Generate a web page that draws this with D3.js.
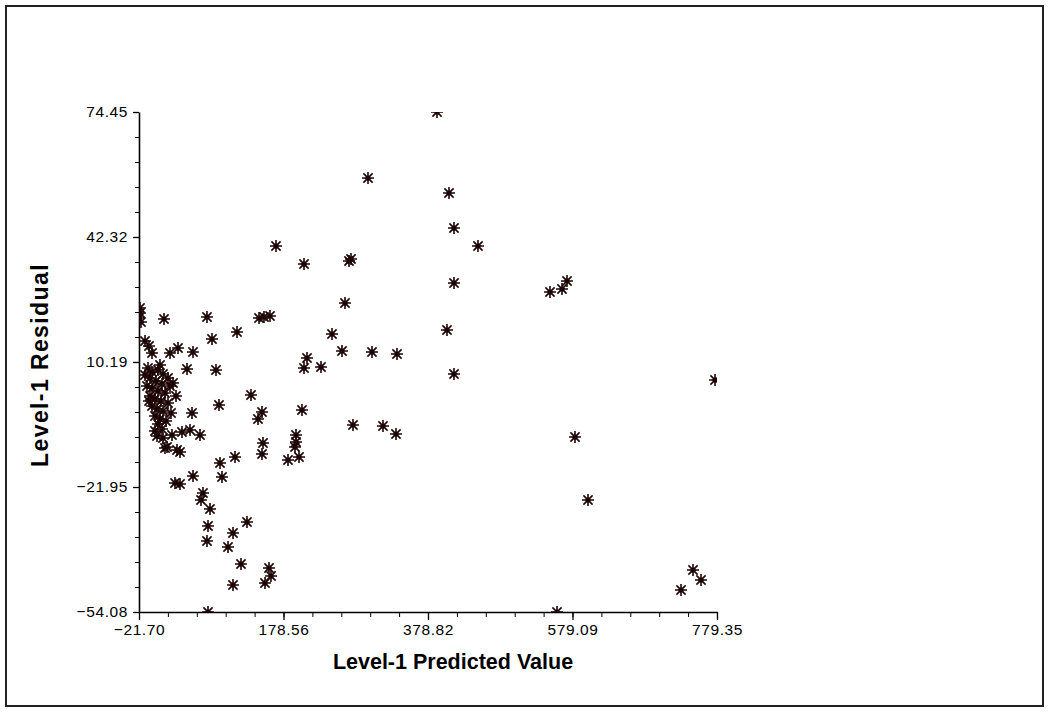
<!DOCTYPE html>
<html>
<head>
<meta charset="utf-8">
<script src="https://cdn.jsdelivr.net/npm/d3@7"></script>
<style>
  body { margin: 0; background: #fff; }
  svg { display: block; }
  .tick-label { font-family: "Liberation Sans", Arial, sans-serif; font-size: 15.5px; letter-spacing: 0.6px; fill: #000; }
  .axis-title { font-family: "Liberation Sans", Arial, sans-serif; font-weight: bold; fill: #000; }
</style>
</head>
<body>
<div id="chart"></div>
<script>
var svgWidth = 1049;
var svgHeight = 712;

var plot = { left: 139, right: 717, top: 112, bottom: 612 };

// tick labels
var xTicks = [-21.70, 178.56, 378.82, 579.09, 779.35];
var yTicks = [-54.08, -21.95, 10.19, 42.32, 74.45];

// Level-1 predicted value (x) and residual (y) for every point
var predicted = [
  391.30, 295.67, 407.93, 414.86, 448.12, 168.17, 206.98, 269.34, 272.11, 414.86,
  547.90, 564.54, 571.47, 263.80, -20.31, -21.70, -18.93, -20.31, 12.95, 72.54,
  144.61, 151.54, 159.85, 405.16, 245.78, 114.12, 79.47, -13.38, -7.84, -3.68,
  21.26, 32.35, 53.14, 259.64, 301.21, 335.86, 211.14, 206.98, 230.54, 44.82,
  85.01, 414.86, 776.60, 133.52, 89.17, 204.20, 148.77, 143.22, 274.88, 316.46,
  334.48, 582.56, 48.98, 62.84, 37.89, 51.75, 150.15, 195.89, 195.89, 194.50,
  35.12, 30.96, 14.33, 90.56, 111.35, 148.77, 184.80, 200.05, 53.14, 93.33,
  28.19, 35.12, 67.00, 64.23, 76.70, 127.98, 73.93, 108.57, 72.54, 101.65,
  119.66, 158.47, 161.24, 152.93, 108.57, 73.93, 557.61, 746.09, 757.18, 729.46,
  600.57,
  -9.23, -3.68, 4.63, 11.56, 18.49, -6.46, 1.86, 10.18, 21.26, -3.68,
  4.63, 14.33, -6.46, 0.47, 8.79, 18.49, -3.68, 3.25, 11.56, 22.65,
  0.47, 7.40, 15.72, 4.63, 10.18, 0.47, 24.03, 11.56, 3.25, -10.61,
  -7.84, 29.58, 25.42, 17.11, -13.38, 7.40
];

var residual = [
  74.45, 57.48, 53.63, 44.63, 40.00, 40.00, 35.38, 36.15, 36.67, 30.49,
  28.18, 28.95, 31.01, 25.35, 22.78, 21.49, 20.47, 24.07, 21.24, 21.75,
  21.49, 21.75, 22.01, 18.41, 17.38, 17.90, 16.10, 15.58, 14.30, 12.50,
  12.50, 13.78, 12.76, 13.01, 12.76, 12.24, 11.21, 8.64, 8.90, 8.39,
  8.13, 7.10, 5.56, 1.70, -0.87, -2.15, -2.67, -4.47, -6.01, -6.27,
  -8.32, -9.10, -7.30, -8.58, -7.81, -2.93, -10.64, -8.58, -10.38, -11.66,
  -12.95, -12.44, -11.92, -15.78, -14.24, -13.47, -15.01, -14.24, -19.12, -19.38,
  -20.92, -21.18, -23.49, -25.29, -27.60, -30.94, -31.97, -33.77, -35.83, -37.37,
  -41.74, -42.77, -44.82, -46.62, -47.14, -54.08, -54.08, -43.28, -45.85, -48.42,
  -25.29,
  8.64, 7.62, 8.13, 7.10, 6.07, 6.07, 5.30, 4.53, 4.02, 3.50,
  2.73, 2.22, 1.45, 0.67, 0.16, -0.35, -1.13, -1.90, -2.41, -2.93,
  -3.70, -4.47, -4.98, -5.75, -7.04, -7.55, -8.58, -9.36, -8.84, 4.02,
  0.16, 1.45, 4.79, -11.66, 6.84, 9.41
];

var points = predicted.map((d, i) => ({ x: d, y: residual[i] }));

var svg = d3.select("#chart")
  .append("svg")
  .attr("width", svgWidth)
  .attr("height", svgHeight);

// outer frame
svg.append("rect")
  .attr("x", 6)
  .attr("y", 6)
  .attr("width", 1037)
  .attr("height", 700)
  .attr("fill", "none")
  .attr("stroke", "#222")
  .attr("stroke-width", 2);

var xScale = d3.scaleLinear()
  .domain([xTicks[0], xTicks[xTicks.length - 1]])
  .range([plot.left, plot.right]);

var yScale = d3.scaleLinear()
  .domain([yTicks[0], yTicks[yTicks.length - 1]])
  .range([plot.bottom, plot.top]);

// minor ticks: five steps between labelled ticks
function minorValues(ticks) {
  var out = [];
  var step = (ticks[1] - ticks[0]) / 5;
  for (var i = 0; i <= (ticks.length - 1) * 5; i++) out.push(ticks[0] + i * step);
  return out;
}

// x axis
var xAxis = svg.append("g")
  .attr("transform", `translate(0, ${plot.bottom})`);

xAxis.append("g")
  .call(d3.axisBottom(xScale).tickValues(minorValues(xTicks)).tickSize(5).tickFormat(""))
  .call(g => g.select(".domain").remove());

xAxis.append("g")
  .call(d3.axisBottom(xScale).tickValues(xTicks).tickSize(8).tickSizeOuter(0).tickPadding(4).tickFormat(d3.format(".2f")))
  .call(g => g.select(".domain").attr("stroke-width", 1.6))
  .call(g => g.selectAll("line").attr("stroke-width", 1.3))
  .call(g => g.selectAll("text").attr("class", "tick-label").attr("font-size", null).attr("font-family", null));

// y axis
var yAxis = svg.append("g")
  .attr("transform", `translate(${plot.left}, 0)`);

yAxis.append("g")
  .call(d3.axisLeft(yScale).tickValues(minorValues(yTicks)).tickSize(4).tickFormat(""))
  .call(g => g.select(".domain").remove());

yAxis.append("g")
  .call(d3.axisLeft(yScale).tickValues(yTicks).tickSize(6).tickSizeOuter(0).tickPadding(5).tickFormat(d3.format(".2f")))
  .call(g => g.select(".domain").attr("stroke-width", 1.6))
  .call(g => g.selectAll("line").attr("stroke-width", 1.3))
  .call(g => g.selectAll("text").attr("class", "tick-label").attr("font-size", null).attr("font-family", null));

svg.selectAll(".tick line").attr("stroke", "#000");

// clip markers to the plotting area
svg.append("clipPath")
  .attr("id", "plotClip")
  .append("rect")
  .attr("x", plot.left)
  .attr("y", plot.top)
  .attr("width", plot.right - plot.left)
  .attr("height", plot.bottom - plot.top);

var r = 6, q = 4.6;
var starPath = `M${-r},0H${r}M0,${-r}V${r}M${-q},${-q}L${q},${q}M${-q},${q}L${q},${-q}`;

var marks = svg.append("g")
  .attr("clip-path", "url(#plotClip)");

var markColor = "#1e0505";

var stars = marks.selectAll("g.star")
  .data(points)
  .enter()
  .append("g")
  .attr("class", "star")
  .attr("transform", d => `translate(${xScale(d.x)}, ${yScale(d.y)})`);

stars.append("path")
  .attr("d", starPath)
  .attr("stroke", markColor)
  .attr("stroke-width", 1.6)
  .attr("fill", "none");

stars.append("circle")
  .attr("r", 2.6)
  .attr("fill", markColor);

// axis titles
svg.append("text")
  .attr("class", "axis-title")
  .attr("x", 453)
  .attr("y", 669)
  .attr("text-anchor", "middle")
  .style("font-size", "21.5px")
  .text("Level-1 Predicted Value");

svg.append("text")
  .attr("class", "axis-title")
  .attr("transform", "translate(48, 365) rotate(-90)")
  .attr("text-anchor", "middle")
  .style("font-size", "23px")
  .style("letter-spacing", "1.4px")
  .text("Level-1 Residual");
</script>
</body>
</html>
